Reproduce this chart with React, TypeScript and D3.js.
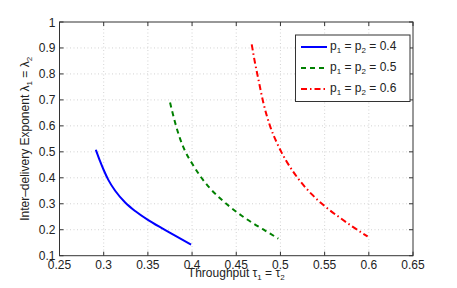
import React, { useRef, useEffect } from 'react';
import * as d3 from 'd3';

const xTicks = [0.25, 0.3, 0.35, 0.4, 0.45, 0.5, 0.55, 0.6, 0.65];
const yTicks = [0.1, 0.2, 0.3, 0.4, 0.5, 0.6, 0.7, 0.8, 0.9, 1];

const blueX = [0.2911, 0.296, 0.3, 0.3054, 0.313, 0.3243, 0.3356, 0.35, 0.3658, 0.3808, 0.3989];
const blueY = [0.508, 0.463, 0.43, 0.391, 0.35, 0.305, 0.272, 0.238, 0.206, 0.177, 0.143];

const greenX = [0.3751, 0.3808, 0.3864, 0.3921, 0.3997, 0.409, 0.4204, 0.4317, 0.443, 0.4562, 0.4675, 0.4806, 0.4976];
const greenY = [0.69, 0.613, 0.551, 0.503, 0.457, 0.408, 0.359, 0.321, 0.288, 0.254, 0.228, 0.201, 0.166];

const redX = [0.4675, 0.4712, 0.475, 0.4806, 0.4882, 0.4957, 0.5014, 0.5108, 0.5221, 0.5353, 0.5504, 0.5674, 0.5824, 0.5986];
const redY = [0.914, 0.843, 0.78, 0.69, 0.6, 0.537, 0.497, 0.442, 0.388, 0.337, 0.29, 0.246, 0.21, 0.174];

const seriesNames = ['0.4', '0.5', '0.6'];
const seriesColors = ['#0000ff', '#008000', '#ff0000'];
const seriesDash = ['', '5,4', '6,3,1.5,3'];

export default function App() {
  const svgRef = useRef<SVGSVGElement>(null);

  useEffect(() => {
    if (!svgRef.current) return;
    const W = 457, H = 288;
    const m = { left: 59.5, right: 413, top: 22, bottom: 255.7 };
    const svg = d3.select(svgRef.current);
    svg.selectAll('*').remove();
    const font = "'Liberation Sans', Arial, Helvetica, sans-serif";

    const x = d3.scaleLinear().domain([0.25, 0.65]).range([m.left, m.right]);
    const y = d3.scaleLinear().domain([0.1, 1]).range([m.bottom, m.top]);

    svg.append('rect').attr('width', W).attr('height', H).attr('fill', '#fff');

    // grid
    const grid = svg.append('g').attr('stroke', '#c8c8c8').attr('stroke-width', 0.8).attr('stroke-dasharray', '1,2.5');
    xTicks.slice(1, -1).forEach((t) => {
      grid.append('line').attr('x1', x(t)).attr('x2', x(t)).attr('y1', m.top).attr('y2', m.bottom);
    });
    yTicks.slice(1, -1).forEach((t) => {
      grid.append('line').attr('y1', y(t)).attr('y2', y(t)).attr('x1', m.left).attr('x2', m.right);
    });

    // box + ticks
    const ax = svg.append('g').attr('stroke', '#333').attr('stroke-width', 1).attr('fill', 'none');
    ax.append('rect').attr('x', m.left).attr('y', m.top).attr('width', m.right - m.left).attr('height', m.bottom - m.top);
    xTicks.forEach((t) => {
      ax.append('line').attr('x1', x(t)).attr('x2', x(t)).attr('y1', m.bottom).attr('y2', m.bottom - 4);
      ax.append('line').attr('x1', x(t)).attr('x2', x(t)).attr('y1', m.top).attr('y2', m.top + 4);
    });
    yTicks.forEach((t) => {
      ax.append('line').attr('y1', y(t)).attr('y2', y(t)).attr('x1', m.left).attr('x2', m.left + 4);
      ax.append('line').attr('y1', y(t)).attr('y2', y(t)).attr('x1', m.right).attr('x2', m.right - 4);
    });

    xTicks.forEach((t) => {
      svg.append('text').attr('x', x(t)).attr('y', m.bottom + 13).attr('text-anchor', 'middle')
        .attr('font-family', font).attr('font-size', 12).attr('fill', '#222').text(String(t));
    });
    yTicks.forEach((t) => {
      svg.append('text').attr('x', m.left - 4).attr('y', y(t) + 4.5).attr('text-anchor', 'end')
        .attr('font-family', font).attr('font-size', 12).attr('fill', '#222').text(String(t));
    });

    // axis labels
    const xl = svg.append('text').attr('x', (m.left + m.right) / 2).attr('y', 276.5).attr('text-anchor', 'middle')
      .attr('font-family', font).attr('font-size', 12).attr('fill', '#222');
    xl.append('tspan').text('Throughput \u03c4');
    xl.append('tspan').attr('font-size', 8).attr('dy', 3).text('1');
    xl.append('tspan').attr('dy', -3).text(' = \u03c4');
    xl.append('tspan').attr('font-size', 8).attr('dy', 3).text('2');

    const yl = svg.append('text').attr('transform', `translate(29,${(m.top + m.bottom) / 2}) rotate(-90)`).attr('text-anchor', 'middle')
      .attr('font-family', font).attr('font-size', 12).attr('fill', '#222');
    yl.append('tspan').text('Inter\u2013delivery Exponent \u03bb');
    yl.append('tspan').attr('font-size', 8).attr('dy', 3).text('1');
    yl.append('tspan').attr('dy', -3).text(' = \u03bb');
    yl.append('tspan').attr('font-size', 8).attr('dy', 3).text('2');

    // curves
    const line = d3.line<[number, number]>().x((d) => x(d[0])).y((d) => y(d[1])).curve(d3.curveMonotoneX);
    const data = [
      blueX.map((v, i) => [v, blueY[i]] as [number, number]),
      greenX.map((v, i) => [v, greenY[i]] as [number, number]),
      redX.map((v, i) => [v, redY[i]] as [number, number]),
    ];
    data.forEach((d, i) => {
      svg.append('path').attr('d', line(d)).attr('fill', 'none').attr('stroke', seriesColors[i])
        .attr('stroke-width', 2).attr('stroke-dasharray', seriesDash[i] || null);
    });

    // legend
    const lg = svg.append('g');
    lg.append('rect').attr('x', 295.5).attr('y', 35).attr('width', 114.5).attr('height', 66.5)
      .attr('fill', '#fff').attr('stroke', '#333').attr('stroke-width', 1);
    seriesNames.forEach((name, i) => {
      const ly = 47 + i * 21;
      lg.append('line').attr('x1', 301).attr('x2', 327).attr('y1', ly).attr('y2', ly)
        .attr('stroke', seriesColors[i]).attr('stroke-width', 2).attr('stroke-dasharray', seriesDash[i] || null);
      const t = lg.append('text').attr('x', 330).attr('y', ly + 3).attr('font-family', font).attr('font-size', 12).attr('fill', '#222');
      t.append('tspan').text('p');
      t.append('tspan').attr('font-size', 8).attr('dy', 3).text('1');
      t.append('tspan').attr('dy', -3).text(' = p');
      t.append('tspan').attr('font-size', 8).attr('dy', 3).text('2');
      t.append('tspan').attr('dy', -3).text(` = ${name}`);
    });
  }, []);

  return (
    <svg ref={svgRef} width={457} height={288} style={{ position: 'absolute', left: 0, top: 0 }} />
  );
}
